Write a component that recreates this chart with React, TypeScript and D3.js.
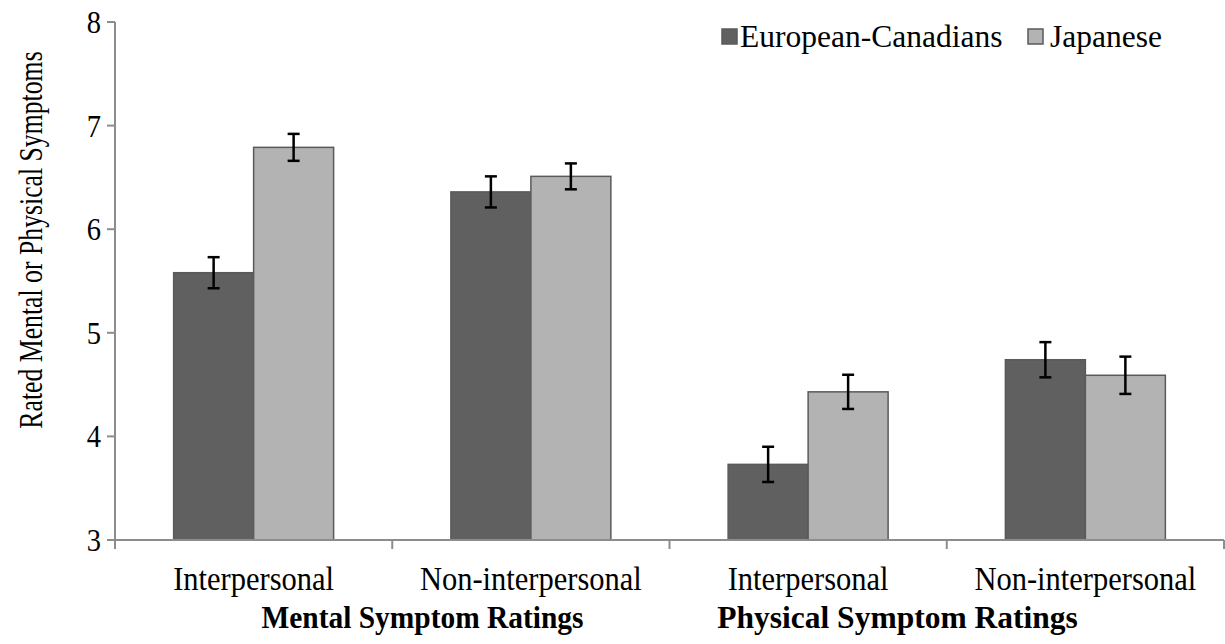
import React from "react";
import * as d3 from "d3";

const categories = ["Interpersonal", "Non-interpersonal", "Interpersonal", "Non-interpersonal"];
const seriesNames = ["European-Canadians", "Japanese"];
const europeanCanadians = [5.58, 6.36, 3.73, 4.74];
const europeanCanadiansErr = [0.15, 0.15, 0.17, 0.17];
const japanese = [6.79, 6.51, 4.43, 4.59];
const japaneseErr = [0.13, 0.125, 0.165, 0.18];
const yTicks = [3, 4, 5, 6, 7, 8];
const groupTitles = ["Mental Symptom Ratings", "Physical Symptom Ratings"];

const W = 1225;
const H = 644;
const left = 115;
const right = 1224;
const top = 22;
const bottom = 540;
const FONT = "'Liberation Serif', 'Times New Roman', serif";
const fills = ["#606060", "#b3b3b3"];

export default function App() {
  const idx = categories.map((_, i) => String(i));
  const x0 = d3.scaleBand<string>().domain(idx).range([left, right]).padding(0);
  const x1 = d3
    .scaleBand<string>()
    .domain(seriesNames)
    .range([0, x0.bandwidth()])
    .paddingInner(0)
    .paddingOuter(0.733);
  const y = d3.scaleLinear().domain([3, 8]).range([bottom, top]);

  const values = [europeanCanadians, japanese];
  const errs = [europeanCanadiansErr, japaneseErr];

  const xTickPos = [...idx.map((k) => x0(k)!), right];

  return (
    <svg
      width={W}
      height={H}
      style={{ position: "absolute", left: 0, top: 0, background: "#fff" }}
      fontFamily={FONT}
    >
      {/* bars */}
      {idx.map((k, i) => (
        <g key={k} transform={`translate(${x0(k)},0)`}>
          {seriesNames.map((s, si) => {
            const v = values[si][i];
            return (
              <rect
                key={s}
                x={x1(s)!}
                y={y(v)}
                width={x1.bandwidth()}
                height={bottom - y(v)}
                fill={fills[si]}
                stroke="#5a5a5a"
                strokeWidth={1.5}
              />
            );
          })}
        </g>
      ))}
      {/* error bars */}
      {idx.map((k, i) => (
        <g key={"e" + k} transform={`translate(${x0(k)},0)`}>
          {seriesNames.map((s, si) => {
            const v = values[si][i];
            const e = errs[si][i];
            const cx = x1(s)! + x1.bandwidth() / 2;
            return (
              <g key={s} stroke="#000" strokeWidth={2.5}>
                <line x1={cx} x2={cx} y1={y(v + e)} y2={y(v - e)} />
                <line x1={cx - 6} x2={cx + 6} y1={y(v + e)} y2={y(v + e)} />
                <line x1={cx - 6} x2={cx + 6} y1={y(v - e)} y2={y(v - e)} />
              </g>
            );
          })}
        </g>
      ))}
      {/* y axis */}
      <line x1={left} x2={left} y1={top} y2={bottom} stroke="#8c8c8c" strokeWidth={2} />
      {yTicks.map((t) => (
        <g key={t}>
          <line x1={left - 8} x2={left} y1={y(t)} y2={y(t)} stroke="#8c8c8c" strokeWidth={2} />
          <text
            transform={`translate(101,${y(t)}) scale(0.92,1)`}
            textAnchor="end"
            dominantBaseline="central"
            fontSize={31}
            fill="#000"
          >
            {t}
          </text>
        </g>
      ))}
      {/* x axis */}
      <line x1={left - 8} x2={right} y1={bottom} y2={bottom} stroke="#8c8c8c" strokeWidth={2} />
      {xTickPos.map((p, i) => (
        <line key={i} x1={p} x2={p} y1={bottom} y2={bottom + 9} stroke="#8c8c8c" strokeWidth={2} />
      ))}
      {idx.map((k, i) => (
        <text
          key={"l" + k}
          transform={`translate(${x0(k)! + x0.bandwidth() / 2},590) scale(0.925,1)`}
          textAnchor="middle"
          fontSize={33}
          fill="#000"
        >
          {categories[i]}
        </text>
      ))}
      <text
        transform="translate(422.5,628) scale(0.92,1)"
        textAnchor="middle"
        fontSize={32}
        fontWeight="bold"
        fill="#000"
      >
        {groupTitles[0]}
      </text>
      <text
        transform="translate(897.5,628) scale(0.985,1)"
        textAnchor="middle"
        fontSize={32}
        fontWeight="bold"
        fill="#000"
      >
        {groupTitles[1]}
      </text>
      {/* y title */}
      <text
        transform={`translate(42,240) rotate(-90) scale(0.78,1)`}
        textAnchor="middle"
        fontSize={33}
        fill="#000"
      >
        Rated Mental or Physical Symptoms
      </text>
      {/* legend */}
      {seriesNames.map((s, si) => {
        const lx = si === 0 ? 722 : 1028;
        const tx = si === 0 ? 740 : 1050;
        return (
          <g key={s}>
            <rect x={lx} y={29} width={15} height={15} fill={fills[si]} stroke="#5a5a5a" strokeWidth={1.5} />
            <text x={tx} y={47} fontSize={31.5} fill="#000">
              {s}
            </text>
          </g>
        );
      })}
    </svg>
  );
}
